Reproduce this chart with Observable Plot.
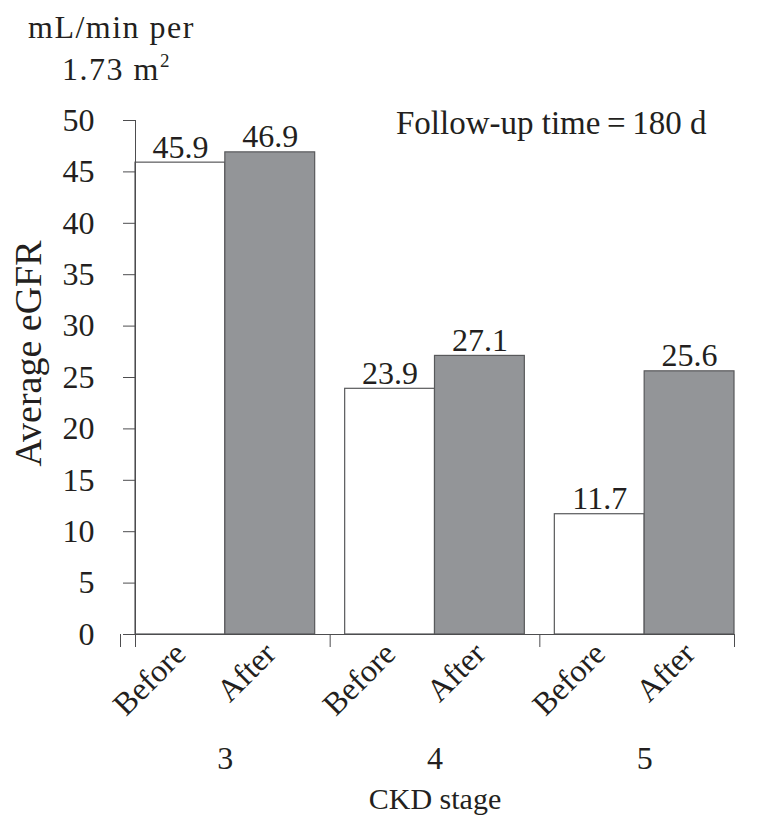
<!DOCTYPE html>
<html><head><meta charset="utf-8">
<script src="https://cdn.jsdelivr.net/npm/d3@7"></script>
<script src="https://cdn.jsdelivr.net/npm/@observablehq/plot@0.6"></script>
<style>
body{margin:0;background:#fff;font-family:"Liberation Serif",serif;color:#231f20}
#head{position:relative;height:100px;width:766px;font-size:32px;letter-spacing:1.5px}
#head div{position:absolute;white-space:nowrap;line-height:32px}
#chart svg{display:block}
</style></head><body>
<div id="head"><div style="left:28px;top:11px">mL/min per</div><div style="left:62px;top:53px">1.73 m<span style="font-size:19px;position:relative;top:-13px">2</span></div></div>
<div id="chart"></div>
<script>
const stages = ["3", "4", "5"];
const phases = ["Before", "After"];
const beforeValues = [45.9, 23.9, 11.7];
const afterValues = [46.9, 27.1, 25.6];
const yTicks = [0, 5, 10, 15, 20, 25, 30, 35, 40, 45, 50];
const yLabel = "Average eGFR";
const xLabel = "CKD stage";
const note = "Follow-up time\u2009=\u2009180 d";

const rows = stages.flatMap((s, i) => [
  {stage: s, phase: phases[0], value: beforeValues[i]},
  {stage: s, phase: phases[1], value: afterValues[i]}
]);

const W = 766, H = 731, mL = 120, mR = 17, mT = 20, mB = 197;
const frameW = W - mL - mR;
const frameH = H - mT - mB;
const gap = 30, outer = 15;
const step = (frameW - 2 * outer + gap) / stages.length;
const ink = "#231f20", line = "#4d4d4f";
const serif = "'Liberation Serif', 'Times New Roman', serif";

const chart = Plot.plot({
  width: W, height: H,
  marginLeft: mL, marginRight: mR, marginTop: mT, marginBottom: mB,
  style: {fontFamily: serif, fontSize: "32px", color: ink, background: "white"},
  fx: {domain: stages, paddingInner: gap / step, paddingOuter: outer / step, round: false},
  x: {domain: phases, padding: 0, round: false},
  y: {domain: [0, 50]},
  color: {domain: phases, range: ["#ffffff", "#939598"]},
  marks: [
    Plot.barY(rows, {fx: "stage", x: "phase", y: "value", fill: "phase", stroke: "#58595b", strokeWidth: 1.2}),
    Plot.text(rows, {fx: "stage", x: "phase", y: "value", text: d => d.value.toFixed(1), lineAnchor: "bottom", dy: -5, fontSize: 32, fontFamily: serif, fill: ink}),
    Plot.axisY(yTicks, {tickSize: 12, tickPadding: 29, label: null, fontSize: 32, fontFamily: serif, stroke: line, fill: ink}),
    Plot.axisX({tickRotate: -45, tickSize: 0, tickPadding: 14, label: null, fontSize: 32, fontFamily: serif, fill: ink}),
    Plot.axisFx({anchor: "bottom", tickSize: 0, tickPadding: 112, label: null, fontSize: 32, fontFamily: serif, fill: ink}),
    Plot.frame({anchor: "left", facet: "super", insetBottom: -12, stroke: line}),
    Plot.frame({anchor: "bottom", facet: "super", insetLeft: -12, stroke: line}),
    Plot.frame({anchor: "right", facet: "super", insetTop: frameH, insetBottom: -12, stroke: line}),
    Plot.frame({anchor: "left", insetLeft: -gap / 2, insetTop: frameH, insetBottom: -12, stroke: line}),
    Plot.text([yLabel], {facet: "super", frameAnchor: "left", rotate: -90, lineAnchor: "top", textAnchor: "middle", dx: -121, dy: -24, fontSize: 38, fontFamily: serif, fill: ink}),
    Plot.text([xLabel], {facet: "super", frameAnchor: "bottom", lineAnchor: "bottom", dy: 174, fontSize: 30, fontFamily: serif, fill: ink}),
    Plot.text([note], {facet: "super", frameAnchor: "top-right", textAnchor: "end", lineAnchor: "middle", dx: -28, dy: 3, fontSize: 33, fontFamily: serif, fill: ink})
  ]
});
document.getElementById("chart").appendChild(chart);
</script>
</body></html>
